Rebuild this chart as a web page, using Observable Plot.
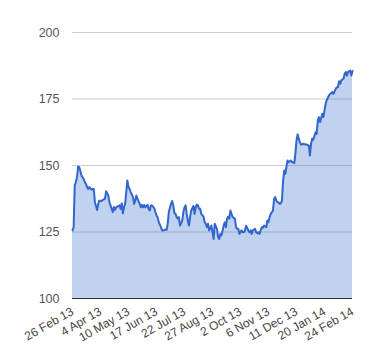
<!DOCTYPE html>
<html><head><meta charset="utf-8">
<script src="https://cdn.jsdelivr.net/npm/d3@7"></script>
<script src="https://cdn.jsdelivr.net/npm/@observablehq/plot@0.6"></script>
<style>body{margin:0;background:#fff}</style>
</head><body><div id="chart"></div>
<script>
const tickLabels = ["26 Feb 13","4 Apr 13","10 May 13","17 Jun 13","22 Jul 13","27 Aug 13","2 Oct 13","6 Nov 13","11 Dec 13","20 Jan 14","24 Feb 14"];
const tickDays = [0,25,50,75,100,125,150,175,200,225,250];
const yTicks = [100,125,150,175,200];
const day = [0,1,2,3,4,5,6,7,8,10,11,12,13,14,15,17,18,19,20,22,23,24,26,27,29,30,32,33,35,36,37,38,39,42,43,44,45,46,47,48,49,50,51,52,54,55,56,57,58,60,61,62,63,64,65,67,68,69,70,71,73,74,75,76,77,79,80,81,82,84,85,86,88,89,90,91,92,93,94,95,96,98,99,100,101,102,103,104,105,106,108,109,110,111,112,113,114,115,117,118,119,120,121,122,124,125,126,127,129,130,131,132,133,135,136,137,138,139,140,141,142,143,145,146,147,148,149,151,152,153,154,155,157,158,159,160,161,163,164,165,166,167,168,169,170,171,173,174,175,176,177,179,180,181,182,183,184,185,186,187,188,189,190,191,192,193,195,196,197,198,199,200,201,202,203,204,205,206,208,209,211,212,213,214,215,217,218,219,220,221,223,224,225,226,227,229,230,231,232,233,235,236,237,238,239,240,242,243,244,245,246,248,249,250];
const price = [125.6,126.8,142.5,143.7,145.6,149.6,149.4,147.9,146.2,145.0,143.7,143.1,141.9,141.2,141.9,140.9,141.2,141.2,136.2,133.3,135.6,136.8,136.6,137.1,137.5,140.3,138.7,136.2,133.7,132.5,134.4,133.3,134.3,135.0,133.7,135.8,132.0,134.3,135.6,140.0,144.4,141.9,141.2,140.0,138.1,135.6,136.8,138.7,137.5,135.6,134.3,135.2,134.3,135.2,134.3,135.2,133.7,133.1,135.0,135.0,134.0,132.5,131.2,130.6,128.7,126.8,125.6,125.6,125.8,125.8,128.1,132.5,135.6,136.6,135.0,132.1,131.8,130.6,130.0,130.6,127.4,129.3,132.5,134.3,135.0,131.8,129.3,127.4,130.6,133.1,134.8,131.8,134.3,135.3,135.0,133.7,133.7,131.8,130.8,128.7,128.1,126.8,128.1,125.6,127.4,124.9,122.4,128.1,126.2,123.1,122.4,124.3,123.7,127.4,128.7,126.8,130.0,130.8,130.0,133.1,131.8,130.6,130.0,126.8,126.2,126.2,124.3,125.6,124.9,124.9,125.6,127.4,125.6,124.9,125.6,124.3,125.6,126.2,124.9,124.5,124.9,124.3,125.6,126.8,126.6,127.4,126.8,129.3,128.7,130.6,131.8,133.1,137.5,138.1,136.8,136.2,136.2,135.6,135.8,136.8,144.0,148.1,146.9,149.4,151.9,151.2,151.9,151.2,151.2,150.9,154.4,159.4,161.7,160.1,158.8,157.9,157.9,158.2,157.9,157.9,157.5,153.8,158.2,160.1,159.7,162.5,161.9,166.9,168.2,166.3,169.4,168.2,170.7,173.2,174.6,176.3,176.9,177.2,177.6,176.9,178.8,179.4,179.4,181.7,180.7,182.0,182.6,184.5,185.1,183.8,185.1,185.7,183.8,185.5];

const data = day.map((d, i) => ({day: d, price: price[i]}));

const chart = Plot.plot({
  width: 380, height: 360,
  marginLeft: 72, marginRight: 28, marginTop: 32, marginBottom: 62,
  style: {fontFamily: "Arial, 'Liberation Sans', sans-serif", fontSize: "12px", color: "#444", background: "#fff"},
  x: {domain: [0, 250], label: null},
  y: {domain: [100, 200], label: null},
  marks: [
    Plot.ruleY(yTicks, {stroke: "#ccc", strokeWidth: 1}),
    Plot.areaY(data, {x: "day", y1: 100, y2: "price", fill: "#3366cc", fillOpacity: 0.3}),
    Plot.lineY(data, {x: "day", y: "price", stroke: "#3366cc", strokeWidth: 2}),
    Plot.ruleY([100], {stroke: "#333", strokeWidth: 1}),
    Plot.axisY({ticks: yTicks, tickSize: 0, tickPadding: 13, fill: "#555", fontSize: 12.5}),
    Plot.axisX({ticks: tickDays, tickFormat: d => tickLabels[tickDays.indexOf(d)], tickRotate: -30, tickSize: 0, tickPadding: 12, fill: "#444", fontSize: 12})
  ]
});
document.getElementById("chart").appendChild(chart);
</script>
</body></html>
